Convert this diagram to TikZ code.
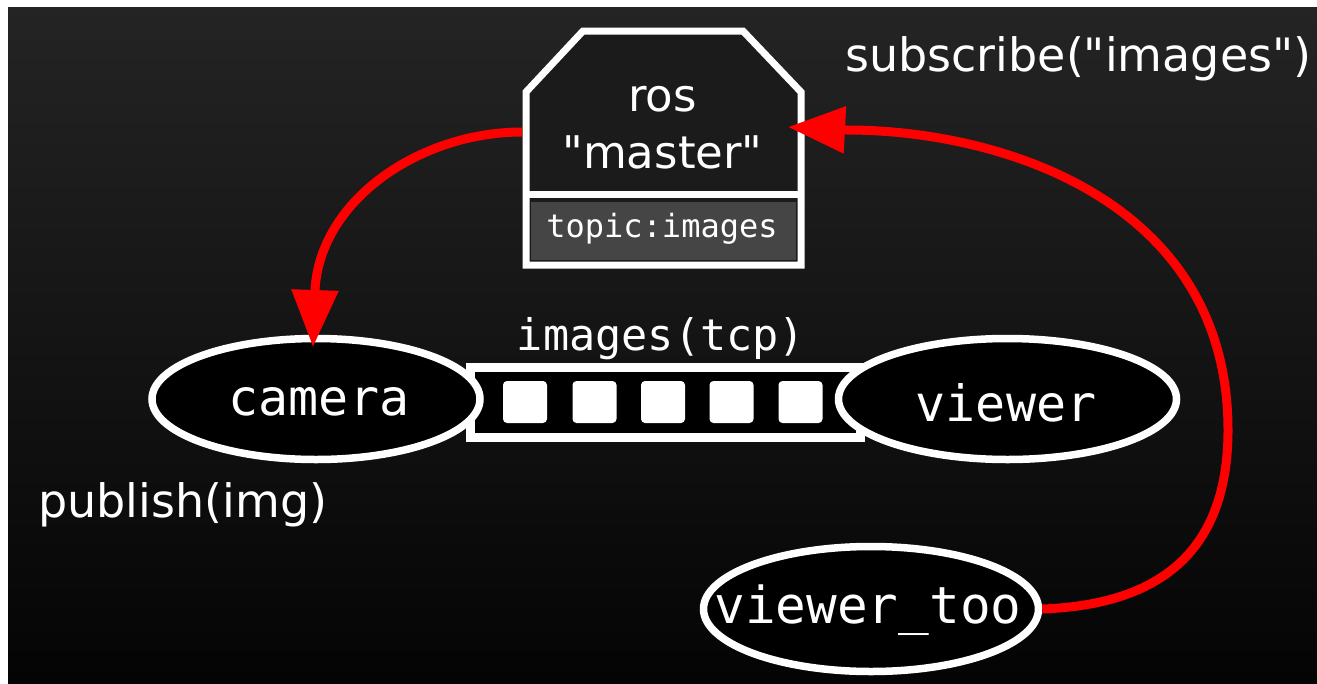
\documentclass[tikz,border=0pt]{standalone}
\usepackage{fontspec}
\setmainfont{DejaVu Sans}
\newfontfamily\monof{DejaVu Sans Mono}
\usetikzlibrary{arrows.meta,shapes.geometric}
\definecolor{bgtop}{HTML}{242424}
\definecolor{bgbot}{HTML}{040404}
\definecolor{boxfill}{HTML}{1B1B1B}
\definecolor{topicgray}{HTML}{454545}
\definecolor{arrred}{HTML}{FF0000}
\begin{document}
\begin{tikzpicture}[x=1pt,y=-1pt,
  sanslbl/.style={text=white, inner sep=0pt, font=\fontsize{45}{54}\selectfont},
  monolbl/.style={text=white, inner sep=0pt, font=\monof\fontsize{50}{60}\selectfont},
  ell/.style={ellipse, draw=white, fill=black, line width=7.5pt, inner sep=0pt},
  pkt/.style={rectangle, rounded corners=4pt, fill=white, minimum width=44pt, minimum height=42pt, inner sep=0pt},
  redarr/.style={draw=arrred, line width=9pt, -{Triangle[length=57pt,width=45pt]}},
  boxline/.style={draw=white, line width=7pt, line join=miter}
]
\useasboundingbox (0,0) rectangle (1317,683);
\fill[white] (0,0) rectangle (1317,683);
\shade[top color=bgtop, bottom color=bgbot] (8,7) rectangle (1317,683);

% channel
\draw[draw=white, fill=black, line width=9pt] (470,367.5) rectangle (860,437);
\foreach \i/\xx in {1/525,2/594.5,3/663,4/731.5,5/800.5}
  \node[pkt] (sq\i) at (\xx,402) {};

% ellipses
\node[ell, minimum width=328pt, minimum height=121pt] (camera) at (316,399) {};
\node[ell, minimum width=338pt, minimum height=121pt] (viewer) at (1007.5,399) {};
\node[ell, minimum width=335pt, minimum height=125pt] (vtoo) at (871,609) {};

\node[monolbl, anchor=base] (cameratxt) at (319,415) {camera};
\node[monolbl, anchor=base] (viewertxt) at (1006,421) {viewer};
\node[monolbl, anchor=base, font=\monof\fontsize{51}{60}\selectfont] (vtootxt) at (868,623) {viewer\_too};
\node[monolbl, anchor=base, font=\monof\fontsize{43.5}{52}\selectfont] (tcptxt) at (661,350) {images(tcp)};

% master box
\draw[boxline, fill=boxfill] (526,92) -- (583,31) -- (743,31) -- (801,92) -- (801,265) -- (526,265) -- cycle;
\draw[boxline] (526,194) -- (801,194);
\fill[topicgray] (531,202) rectangle (796,260);
\node[sanslbl, anchor=base] (ros) at (662.5,111) {ros};
\node[sanslbl, anchor=base] (mastertxt) at (662.5,168) {\textquotedbl master\textquotedbl};
\node[monolbl, anchor=base, font=\monof\fontsize{32}{38}\selectfont] (topic) at (662,237) {topic:images};

% labels
\node[sanslbl, anchor=base west, font=\fontsize{46}{55}\selectfont] (sub) at (845,71) {subscribe(\textquotedbl images\textquotedbl)};
\node[sanslbl, anchor=base west, font=\fontsize{46}{55}\selectfont] (pub) at (38,517) {publish(img)};

% connectors
\coordinate (mW) at (522,132);
\coordinate (mE) at (788,127);
\coordinate (camTop) at (313,347);
\coordinate (camBase) at (315,290);
\coordinate (mBase) at (847,130);
\draw[redarr] (mW) .. controls (420,132) and (320,200) .. (camBase) -- (camTop);
\draw[redarr] (vtoo.east) .. controls (1150,605) and (1228,560) .. (1228,430)
  .. controls (1228,200) and (1000,130) .. (mBase) -- (mE);
\end{tikzpicture}
\end{document}
